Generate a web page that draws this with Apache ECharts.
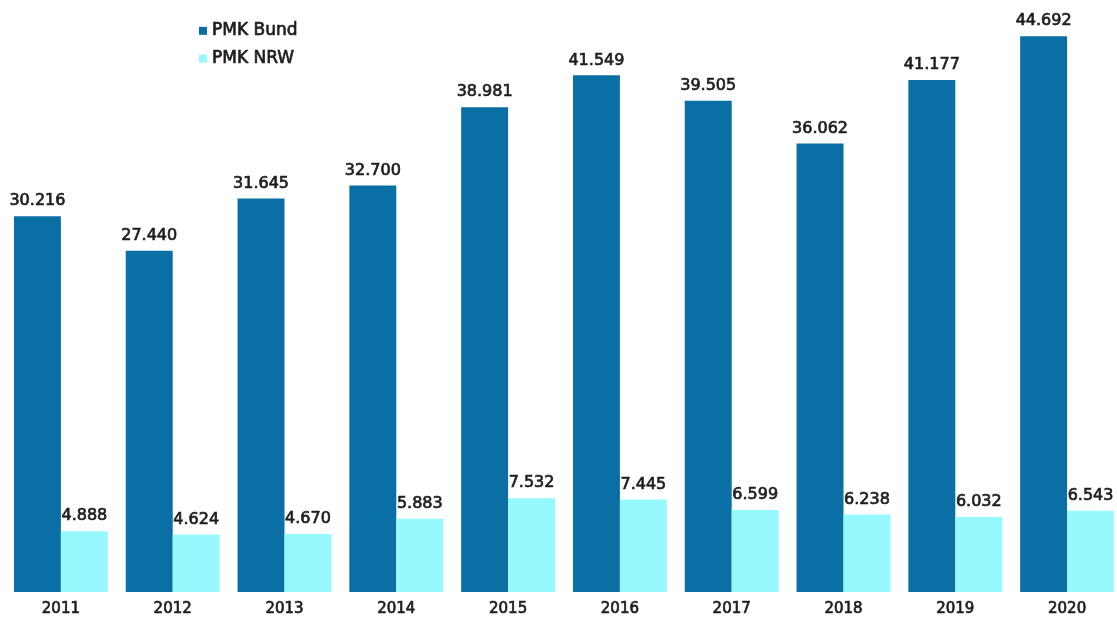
<!DOCTYPE html>
<html>
<head>
<meta charset="utf-8">
<style>
  html, body { margin: 0; padding: 0; background: #ffffff; }
  #chart { width: 1117px; height: 618px; }
</style>
<script src="https://cdn.jsdelivr.net/npm/echarts@6/dist/echarts.min.js"></script>
</head>
<body>
<div id="chart"></div>
<script>
// Jahre
const years = ['2011', '2012', '2013', '2014', '2015', '2016', '2017', '2018', '2019', '2020'];
// PMK-Fallzahlen bundesweit
const pmkBund = [30216, 27440, 31645, 32700, 38981, 41549, 39505, 36062, 41177, 44692];
// PMK-Fallzahlen Nordrhein-Westfalen
const pmkNrw = [4888, 4624, 4670, 5883, 7532, 7445, 6599, 6238, 6032, 6543];

const seriesNames = ['PMK Bund', 'PMK NRW'];
const colors = ['#0a6fa4', '#97f9fd'];
const fontFamily = '"DejaVu Sans", sans-serif';
const textColor = '#1e1e1e';

// Tausenderpunkt wie im Deutschen
function fmt(v) {
  return String(v).replace(/\B(?=(\d{3})+(?!\d))/g, '.');
}

// leicht verstärkte Schrift (halbfett)
const thicken = { textBorderColor: textColor, textBorderWidth: 0.7 };

const labelStyle = Object.assign({
  show: true,
  position: 'top',
  distance: 7,
  color: textColor,
  fontFamily: fontFamily,
  fontSize: 16,
  fontWeight: 'normal',
  formatter: p => fmt(p.value)
}, thicken);

const chart = echarts.init(document.getElementById('chart'), null, { renderer: 'canvas' });
chart.setOption({
  animation: false,
  color: colors,
  legend: {
    orient: 'vertical',
    left: 194,
    top: 17,
    itemWidth: 8,
    itemHeight: 8,
    itemGap: 10,
    icon: 'rect',
    textStyle: Object.assign({ color: textColor, fontFamily: fontFamily, fontSize: 17, fontWeight: 'normal' }, thicken),
    data: seriesNames
  },
  grid: { left: 5, right: -6, top: 20, bottom: 26, outerBoundsMode: 'none', containLabel: false },
  xAxis: {
    type: 'category',
    data: years,
    axisLine: { show: false },
    axisTick: { show: false },
    axisLabel: Object.assign({ color: textColor, fontFamily: fontFamily, fontSize: 15, fontWeight: 'normal', margin: 10 }, thicken)
  },
  yAxis: {
    type: 'value',
    min: 0,
    max: 46000,
    show: false,
    splitLine: { show: false }
  },
  series: [
    {
      name: seriesNames[0],
      type: 'bar',
      data: pmkBund,
      barGap: '0%',
      barCategoryGap: '16%',
      label: labelStyle
    },
    {
      name: seriesNames[1],
      type: 'bar',
      data: pmkNrw,
      label: labelStyle
    }
  ]
});
</script>
</body>
</html>
